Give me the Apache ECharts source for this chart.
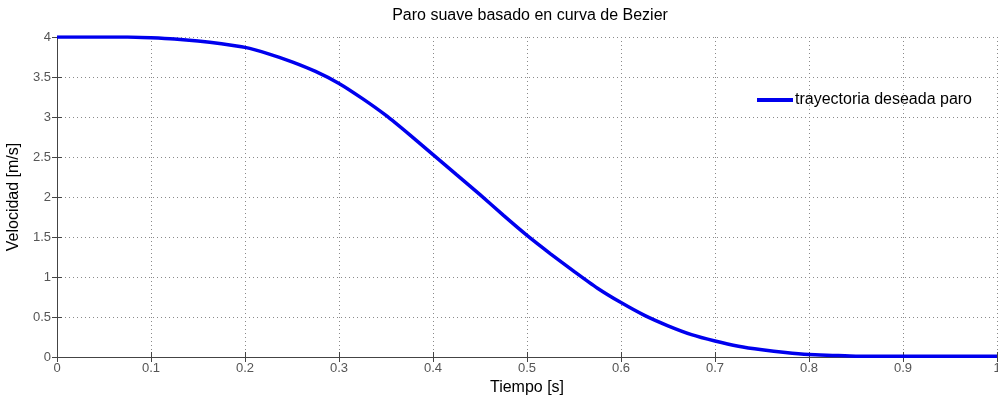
<!DOCTYPE html>
<html><head><meta charset="utf-8">
<script src="https://cdn.jsdelivr.net/npm/echarts@6/dist/echarts.min.js"></script>
<style>html,body{margin:0;padding:0;background:#fff}#c{width:998px;height:396px}</style>
</head><body><div id="c"></div>
<script>
const tiempo = [0,0.025,0.05,0.075,0.1,0.125,0.15,0.175,0.2,0.225,0.25,0.275,0.3,0.325,0.35,0.375,0.4,0.425,0.45,0.475,0.5,0.525,0.55,0.575,0.6,0.625,0.65,0.675,0.7,0.725,0.75,0.775,0.8,0.825,0.85,0.875,0.9,0.925,0.95,0.975,1.0];
const velocidad = [4.00,4.00,4.00,4.00,3.99,3.975,3.95,3.915,3.87,3.79,3.69,3.57,3.42,3.23,3.02,2.78,2.53,2.28,2.03,1.77,1.52,1.29,1.07,0.86,0.68,0.52,0.39,0.28,0.20,0.135,0.09,0.055,0.03,0.02,0.01,0.01,0.01,0.01,0.01,0.01,0.01];
const seriesName = 'trayectoria deseada paro';
const titleText = 'Paro suave basado en curva de Bezier';
const xName = 'Tiempo [s]';
const yName = 'Velocidad [m/s]';

const font = 'Liberation Sans, Arial, sans-serif';
const chart = echarts.init(document.getElementById('c'));
const axisLine = {show:true, lineStyle:{color:'#444', width:1}};
const splitLine = {show:true, lineStyle:{color:'#8a8a8a', type:[1,3], width:1}};
chart.setOption({
  animation:false,
  title:{text:titleText, left:525, top:3, textAlign:'center',
    textStyle:{fontFamily:font, fontSize:16, fontWeight:'normal', color:'#000'}},
  legend:{left:752, top:87, itemWidth:36, itemHeight:4, itemGap:4,
    icon:'rect', textStyle:{fontFamily:font, fontSize:16, color:'#000', padding:[0,0,0,-3]},
    data:[{name:seriesName}]},
  grid:{left:57, right:1, top:37, bottom:39, show:false, containLabel:false, outerBoundsMode:'none'},
  xAxis:[{type:'value', min:0, max:1, interval:0.1, position:'bottom',
    name:xName, nameLocation:'middle', nameGap:22,
    nameTextStyle:{fontFamily:font, fontSize:16, color:'#000'},
    axisLine:axisLine, axisTick:{show:true, inside:true, length:5, lineStyle:{color:'#444'}},
    axisLabel:{fontFamily:font, fontSize:13, color:'#555', margin:5,
      formatter:v=>String(+v.toFixed(1))},
    splitLine:splitLine},
   {type:'value', min:0, max:1, interval:0.1, position:'top',
    axisLine:axisLine, axisTick:{show:true, inside:true, length:5, lineStyle:{color:'#444'}},
    axisLabel:{show:false}, splitLine:{show:false}}],
  yAxis:[{type:'value', min:0, max:4, interval:0.5, position:'left',
    name:yName, nameLocation:'middle', nameGap:28,
    nameTextStyle:{fontFamily:font, fontSize:16, color:'#000'},
    axisLine:axisLine, axisTick:{show:true, inside:true, length:5, lineStyle:{color:'#444'}},
    axisLabel:{fontFamily:font, fontSize:13, color:'#555', margin:6,
      formatter:v=>String(+v.toFixed(1))},
    splitLine:splitLine},
   {type:'value', min:0, max:4, interval:0.5, position:'right',
    axisLine:axisLine, axisTick:{show:true, inside:true, length:5, lineStyle:{color:'#444'}},
    axisLabel:{show:false}, splitLine:{show:false}}],
  series:[{name:seriesName, type:'line', xAxisIndex:0, yAxisIndex:0,
    data:tiempo.map((t,i)=>[t, velocidad[i]]),
    smooth:0.2, showSymbol:false, symbol:'none',
    lineStyle:{color:'#0000ee', width:3.5}, itemStyle:{color:'#0000ee'}}]
});
</script></body></html>
